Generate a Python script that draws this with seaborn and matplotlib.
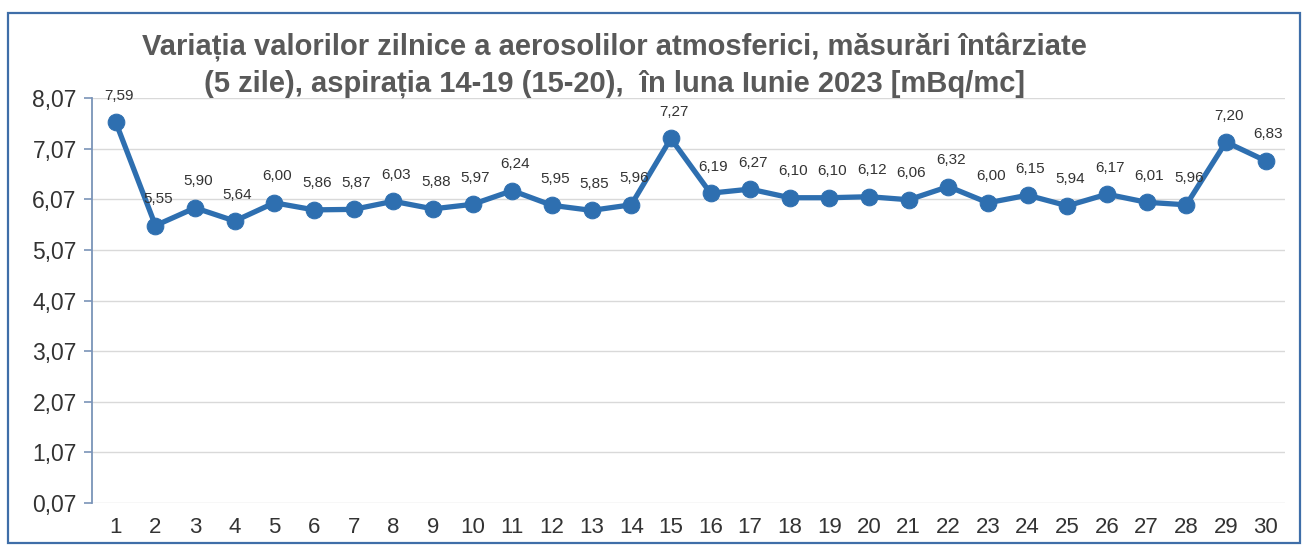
import matplotlib
matplotlib.use("Agg")
import matplotlib.pyplot as plt
from matplotlib.patches import Rectangle
import numpy as np
import pandas as pd
import seaborn as sns

days = list(range(1, 31))
values = [7.59, 5.55, 5.90, 5.64, 6.00, 5.86, 5.87, 6.03, 5.88, 5.97,
          6.24, 5.95, 5.85, 5.96, 7.27, 6.19, 6.27, 6.10, 6.10, 6.12,
          6.06, 6.32, 6.00, 6.15, 5.94, 6.17, 6.01, 5.96, 7.20, 6.83]
y_ticks = [0.07, 1.07, 2.07, 3.07, 4.07, 5.07, 6.07, 7.07, 8.07]

title = ("Variația valorilor zilnice a aerosolilor atmosferici, măsurări întârziate\n"
         "(5 zile), aspirația 14-19 (15-20),  în luna Iunie 2023 [mBq/mc]")

sns.set_style("white")
plt.rcParams['font.family'] = ['Liberation Sans', 'DejaVu Sans']

line_color = "#2e6fb0"

df = pd.DataFrame({"day": days, "value": values})

fig = plt.figure(figsize=(13.05, 5.53), dpi=100)
ax = fig.add_axes([0.0705, 0.0904, 0.9145, 0.7324])

sns.lineplot(data=df, x="day", y="value", ax=ax, color=line_color,
             linewidth=3.8, marker="o", markersize=12,
             markeredgecolor=line_color, markerfacecolor=line_color)

for d, v in zip(days, values):
    ax.annotate(f"{v:.2f}".replace(".", ","), (d, v), xytext=(2, 14),
                textcoords="offset points", ha="center", va="bottom",
                fontsize=11, color="#333333")

ax.set_xlim(0.4, 30.5)
ax.set_ylim(0.07, 8.07)
ax.set_yticks(y_ticks)
ax.set_yticklabels([f"{t:.2f}".replace(".", ",") for t in y_ticks])
ax.set_xticks(days)
ax.set_xticklabels([str(d) for d in days])
ax.tick_params(axis="y", labelsize=16.5, colors="#333333", length=6,
               width=1.2, direction="out", left=True, color="#7a94b8", pad=5)
ax.tick_params(axis="x", labelsize=16, colors="#333333", length=0, pad=10)
ax.set_xlabel("")
ax.set_ylabel("")

ax.grid(axis="y", color="#d9d9d9", linewidth=1)
ax.set_axisbelow(True)
for side in ["top", "right", "bottom"]:
    ax.spines[side].set_visible(False)
ax.spines["left"].set_color("#7a94b8")
ax.spines["left"].set_linewidth(1.3)

fig.text(0.471, 0.94, title, ha="center", va="top", fontsize=21,
         fontweight="bold", color="#595959", linespacing=1.35)

fig.patches.append(Rectangle((8 / 1305, 10 / 553), 1292 / 1305, 530 / 553,
                             transform=fig.transFigure, fill=False,
                             edgecolor="#3f6ea8", linewidth=1.6))

fig.savefig("out.png", dpi=100)
